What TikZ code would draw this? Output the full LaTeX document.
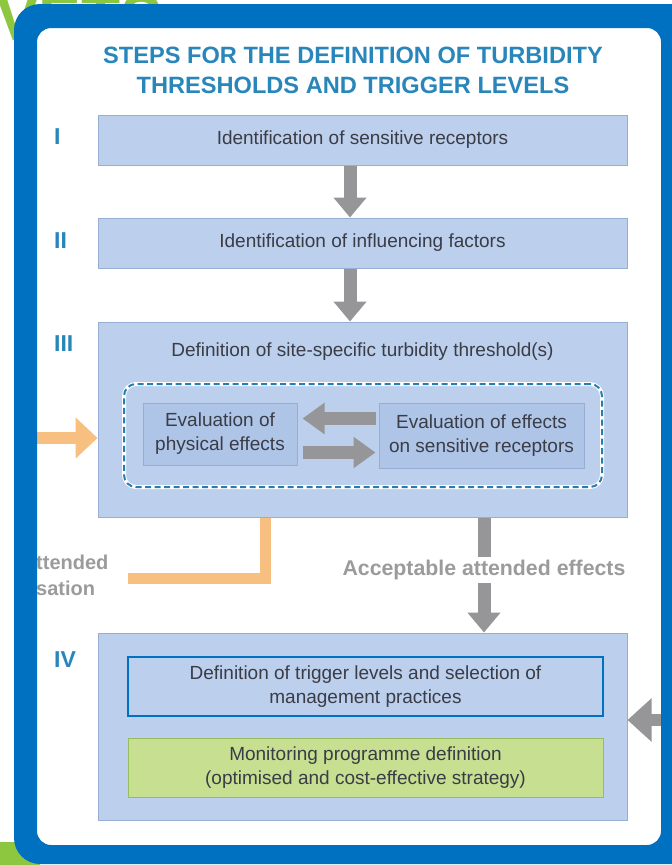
\documentclass[tikz,border=0pt]{standalone}
\usepackage{fontspec}
\setmainfont{Liberation Sans}
\usetikzlibrary{arrows.meta}

\definecolor{frameblue}{RGB}{0,112,192}
\definecolor{titleblue}{RGB}{40,134,186}
\definecolor{boxfill}{RGB}{188,207,236}
\definecolor{boxfilldeep}{RGB}{174,197,232}
\definecolor{boxline}{RGB}{150,174,210}
\definecolor{txt}{RGB}{58,60,70}
\definecolor{arrowgray}{RGB}{150,150,152}
\definecolor{labelgray}{RGB}{155,155,155}
\definecolor{orangeln}{RGB}{247,192,128}
\definecolor{greenfill}{RGB}{198,223,145}
\definecolor{greenline}{RGB}{150,188,95}
\definecolor{leafgreen}{RGB}{141,198,63}
\definecolor{dashblue}{RGB}{40,125,175}

\begin{document}
\begin{tikzpicture}[x=1pt,y=-1pt,
  boxfont/.style={font=\fontsize{19}{24}\selectfont},
  stepbox/.style={draw=boxline, fill=boxfill, line width=1pt, text=txt,
    boxfont, align=center, inner sep=0pt},
  evalbox/.style={stepbox, fill=boxfilldeep},
  numeral/.style={text=titleblue, font=\bfseries\fontsize{23}{26}\selectfont,
    anchor=west, inner sep=0pt},
  graylabel/.style={text=labelgray, font=\bfseries\fontsize{21.3}{26}\selectfont,
    inner sep=3pt},
  bigarrow/.style={draw=arrowgray, line width=13pt,
    -{Triangle[width=32pt,length=20pt]}},
  sidearrow/.style={draw=arrowgray, line width=13pt,
    -{Triangle[width=30pt,length=22pt]}},
  orangearrow/.style={draw=orangeln, line width=12pt,
    -{Triangle[width=40pt,length=22pt]}},
]
\useasboundingbox (0,0) rectangle (672,865);
\clip (0,0) rectangle (672,865);

% green fragments from the surrounding page
\node[text=leafgreen, font=\bfseries\fontsize{64}{64}\selectfont,
  anchor=base west, inner sep=0pt] (pagehead) at (-4,40) {VETS};
\fill[leafgreen] (0,842) rectangle (40,865);

% white panel
\fill[white, rounded corners=14pt] (37,28) rectangle (661,845);

% title
\node[text=titleblue, font=\bfseries\fontsize{23.6}{30}\selectfont,
  align=center] (title) at (353,70)
  {STEPS FOR THE DEFINITION OF TURBIDITY\\THRESHOLDS AND TRIGGER LEVELS};

% step numerals
\node[numeral] (n1) at (54,137) {I};
\node[numeral] (n2) at (54,241) {II};
\node[numeral] (n3) at (54,344) {III};
\node[numeral] (n4) at (54,660) {IV};

% steps I and II
\node[stepbox, minimum width=529pt, minimum height=50pt] (b1) at (362.5,140)
  {Identification of sensitive receptors};
\node[stepbox, minimum width=529pt, minimum height=50pt] (b2) at (362.5,243)
  {Identification of influencing factors};

% step III
\node[stepbox, minimum width=529pt, minimum height=195pt] (b3) at (362.5,419.5) {};
\node[text=txt, boxfont] (b3t) at (362.5,352)
  {Definition of site-specific turbidity threshold(s)};
\node[minimum width=478pt, minimum height=103pt, rounded corners=12pt,
  draw=dashblue, line width=2pt, dash pattern=on 6pt off 3.5pt,
  preaction={draw=white, line width=4pt, solid}] (loop) at (363,435.5) {};
\node[evalbox, minimum width=154pt, minimum height=62pt] (pe) at (220,434)
  {Evaluation of\\physical effects};
\node[evalbox, minimum width=205pt, minimum height=65pt] (re) at (481.5,435.5)
  {Evaluation of effects\\on sensitive receptors};
\draw[sidearrow, shorten <=3pt, shorten >=5pt]
  ([yshift=17pt]re.west) -- ([yshift=17pt]pe.east |- re.west);
\draw[sidearrow, shorten <=5pt, shorten >=3pt]
  ([yshift=-17pt]pe.east |- re.west) -- ([yshift=-17pt]re.west);

% step IV
\node[stepbox, minimum width=529pt, minimum height=187pt] (b4) at (362.5,726.5) {};
\node[stepbox, draw=frameblue, line width=1.5pt, minimum width=475pt,
  minimum height=59pt] (trig) at (365.5,686.5)
  {Definition of trigger levels and selection of\\management practices};
\node[stepbox, fill=greenfill, draw=greenline, minimum width=475pt,
  minimum height=59pt] (mon) at (365.5,767.5)
  {Monitoring programme definition\\(optimised and cost-effective strategy)};

% main flow
\draw[bigarrow] ([xshift=-12.5pt]b1.south) -- ([xshift=-12.5pt]b2.north);
\draw[bigarrow] ([xshift=-12.5pt]b2.south) -- ([xshift=-12.5pt]b3.north);

\node[graylabel] (acc) at (484,570) {Acceptable attended effects};
\draw[draw=arrowgray, line width=13pt] (b3.south -| acc) -- (acc.north);
\draw[bigarrow] (acc.south) -- (b4.north -| acc);

% side inputs
\coordinate (orin) at (30,438);
\draw[orangearrow] (orin) -- (b3.west |- orin);
\node[graylabel, font=\bfseries\fontsize{20}{26}\selectfont, anchor=west,
  align=left, inner sep=0pt] (comp) at (36,575) {ttended\\sation};
\coordinate (orend) at (128,578);
\draw[draw=orangeln, line width=11pt] (b3.south -| 265,0) |- (orend);

\coordinate (rin) at (690,720);
\draw[draw=arrowgray, line width=12pt, -{Triangle[width=42pt,length=24pt]}]
  (rin) -- (b4.east |- rin);

% blue frame on top
\fill[frameblue, even odd rule, rounded corners=26pt] (14,4) rectangle (720,864)
  [rounded corners=14pt] (37,28) rectangle (661,845);
\end{tikzpicture}
\end{document}
